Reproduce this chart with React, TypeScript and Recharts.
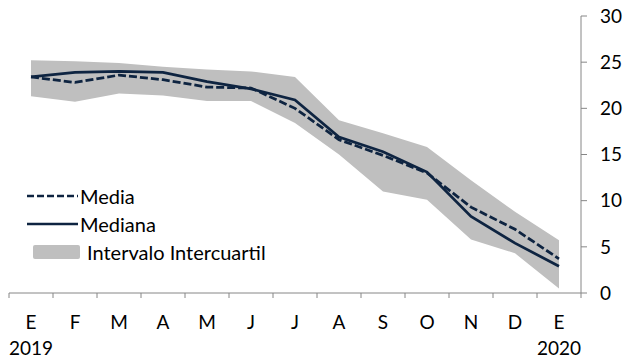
import React from 'react';
import { ComposedChart, Area, Line, XAxis, YAxis } from 'recharts';

const months = ['E', 'F', 'M', 'A', 'M', 'J', 'J', 'A', 'S', 'O', 'N', 'D', 'E'];
const years = ['2019', '', '', '', '', '', '', '', '', '', '', '', '2020'];
const media = [23.4, 22.8, 23.6, 23.1, 22.3, 22.2, 20.0, 16.6, 14.9, 13.0, 9.3, 6.9, 3.7];
const mediana = [23.4, 23.9, 24.0, 23.9, 22.9, 22.1, 20.9, 16.9, 15.3, 13.1, 8.3, 5.4, 2.9];
const iqrLow = [21.3, 20.7, 21.6, 21.4, 20.8, 20.8, 18.4, 15.0, 11.0, 10.1, 5.8, 4.3, 0.5];
const iqrHigh = [25.2, 25.1, 24.9, 24.5, 24.2, 24.0, 23.4, 18.7, 17.3, 15.8, 12.2, 8.8, 5.7];
const yTicks = [0, 5, 10, 15, 20, 25, 30];
const legendLabels = ['Media', 'Mediana', 'Intervalo Intercuartil'];

const data = months.map((m, i) => ({
  key: `${m}${i}`,
  month: m,
  year: years[i],
  media: media[i],
  mediana: mediana[i],
  iqr: [iqrLow[i], iqrHigh[i]],
}));

const NAVY = '#0e2441';
const GRAY = '#bfbfbf';
const AXIS = '#868686';
const FONT = 'Lato, "Open Sans", sans-serif';
const FS = 19;

const XTick = (props: any) => {
  const { x, y, index } = props;
  const half = 22;
  const d = data[index];
  return (
    <g>
      <line x1={x - half} y1={y} x2={x - half} y2={y + 5} stroke={AXIS} strokeWidth={1} />
      {index === data.length - 1 && (
        <line x1={x + half} y1={y} x2={x + half} y2={y + 5} stroke={AXIS} strokeWidth={1} />
      )}
      <text x={x} y={y + 36} textAnchor="middle" fontSize={FS} fill="#000" fontFamily={FONT}>
        {d ? d.month : ''}
      </text>
      {d && d.year && (
        <text x={x} y={y + 62} textAnchor="middle" fontSize={FS} fill="#000" fontFamily={FONT}>
          {d.year}
        </text>
      )}
    </g>
  );
};

const LegendBox = () => (
  <div
    style={{
      position: 'absolute',
      left: 27,
      top: 182,
      fontFamily: FONT,
      fontSize: 20,
      color: '#000',
      lineHeight: '28px',
    }}
  >
    <div style={{ display: 'flex', alignItems: 'center', height: 28 }}>
      <svg width={53} height={10}>
        <line x1={0} y1={5} x2={51} y2={5} stroke={NAVY} strokeWidth={2.5} strokeDasharray="7 3" />
      </svg>
      <span>{legendLabels[0]}</span>
    </div>
    <div style={{ display: 'flex', alignItems: 'center', height: 28 }}>
      <svg width={53} height={10}>
        <line x1={0} y1={5} x2={51} y2={5} stroke={NAVY} strokeWidth={2.5} />
      </svg>
      <span>{legendLabels[1]}</span>
    </div>
    <div style={{ display: 'flex', alignItems: 'center', height: 28 }}>
      <svg width={60} height={16}>
        <rect x={6} y={1} width={47} height={14} rx={2} fill={GRAY} />
      </svg>
      <span>{legendLabels[2]}</span>
    </div>
  </div>
);

export default function App() {
  return (
    <div style={{ position: 'absolute', left: 0, top: 0, width: 624, height: 360, background: '#fff' }}>
      <ComposedChart width={624} height={360} data={data} margin={{ top: 16, right: 0, bottom: 0, left: 9 }}>
        <XAxis
          dataKey="key"
          padding={{ left: 22, right: 22 }}
          interval={0}
          tickLine={false}
          tickSize={0}
          tickMargin={0}
          height={67}
          axisLine={{ stroke: AXIS, strokeWidth: 1 }}
          tick={<XTick />}
        />
        <YAxis
          orientation="right"
          domain={[0, 30]}
          ticks={yTicks}
          interval={0}
          width={43}
          tickSize={6}
          tickMargin={13}
          axisLine={{ stroke: AXIS, strokeWidth: 1 }}
          tickLine={{ stroke: AXIS, strokeWidth: 1 }}
          tick={{ fill: '#000', fontSize: FS, fontFamily: FONT, textAnchor: 'start' }}
        />
        <Area
          type="linear"
          dataKey="iqr"
          stroke="none"
          fill={GRAY}
          fillOpacity={1}
          isAnimationActive={false}
        />
        <Line
          type="linear"
          dataKey="mediana"
          stroke={NAVY}
          strokeWidth={2.75}
          dot={false}
          isAnimationActive={false}
        />
        <Line
          type="linear"
          dataKey="media"
          stroke={NAVY}
          strokeWidth={2.75}
          strokeDasharray="8 3"
          dot={false}
          isAnimationActive={false}
        />
      </ComposedChart>
      <LegendBox />
    </div>
  );
}
